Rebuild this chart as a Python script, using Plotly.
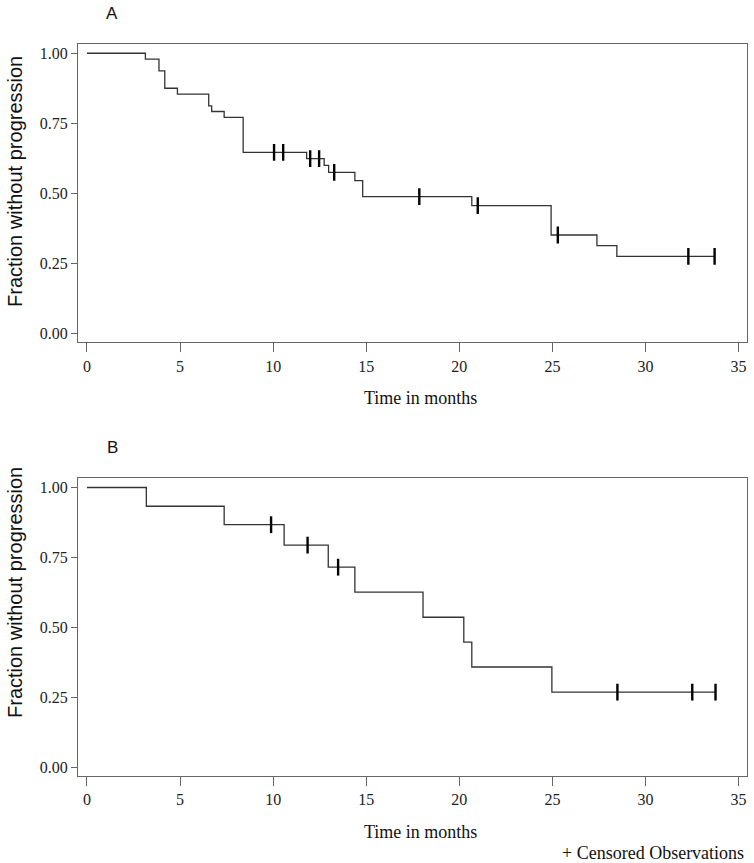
import numpy as np
import plotly.graph_objects as go

# ---------------- data ----------------
A_event_times = [0, 3.14, 3.87, 4.18, 4.86, 6.54, 6.70, 7.37, 8.39, 11.80, 12.74,
                 12.98, 14.39, 14.81, 20.67, 24.93, 27.39, 28.46]
A_survival = [1.000, 0.979, 0.937, 0.875, 0.854, 0.812, 0.792, 0.771, 0.646, 0.624,
              0.600, 0.575, 0.545, 0.488, 0.456, 0.351, 0.313, 0.275]
A_censor_times = [10.05, 10.54, 11.99, 12.47, 13.28, 17.85, 20.99, 25.29, 32.30, 33.71]

B_event_times = [0, 3.19, 7.37, 10.59, 12.96, 14.39, 18.05, 20.24, 20.67, 24.97]
B_survival = [1.000, 0.933, 0.867, 0.794, 0.715, 0.626, 0.536, 0.447, 0.358, 0.268]
B_censor_times = [9.89, 11.85, 13.49, 28.49, 32.51, 33.76]

x_ticks = [0, 5, 10, 15, 20, 25, 30, 35]
y_ticks = [0.00, 0.25, 0.50, 0.75, 1.00]
panel_labels = ["A", "B"]
x_title = "Time in months"
y_title = "Fraction without progression"
legend_text = "+&nbsp;Censored Observations"

# ---------------- geometry (screen pixels) ----------------
W, H = 754, 863
S_LEFT, S_RIGHT, S_TOP, S_BOTTOM = 78, 747, 44, 776
ML, MT, MR, MB = S_LEFT, S_TOP, W - S_RIGHT, H - S_BOTTOM
PW, PH = S_RIGHT - S_LEFT, S_BOTTOM - S_TOP

def py(p):
    return (S_BOTTOM - p) / PH

def px(p):
    return (p - S_LEFT) / PW

fig = go.Figure()

panels = [
    (A_event_times, A_survival, A_censor_times, "x", "y"),
    (B_event_times, B_survival, B_censor_times, "x2", "y2"),
]

LINE_COLOR = "#333333"
for times, surv, cens, xa, ya in panels:
    end_t = max(max(cens), times[-1])
    xs = list(times) + [end_t]
    ys = list(surv) + [surv[-1]]
    fig.add_trace(go.Scatter(x=xs, y=ys, mode="lines", line=dict(shape="hv", color=LINE_COLOR, width=1.3),
                             xaxis=xa, yaxis=ya, showlegend=False, hoverinfo="skip"))
    idx = np.searchsorted(np.array(times), np.array(cens), side="right") - 1
    cy = [surv[i] for i in idx]
    fig.add_trace(go.Scatter(x=cens, y=cy, mode="markers",
                             marker=dict(symbol="line-ns", size=12, line=dict(color="black", width=2.4)),
                             xaxis=xa, yaxis=ya, showlegend=False, hoverinfo="skip"))

axis_common = dict(showline=True, mirror=True, linecolor="#666666", linewidth=1,
                   ticks="outside", tickcolor="#666666", showgrid=False, zeroline=False,
                   tickfont=dict(family="Liberation Serif", size=16, color="#222222"))

xr = [-0.48, 35.45]
yr = [-0.032, 1.033]
domA = [py(342.3), 1.0]
domB = [0.0, py(478.3)]

fig.update_layout(
    width=W, height=H,
    margin=dict(l=ML, r=MR, t=MT, b=MB),
    paper_bgcolor="white", plot_bgcolor="white",
    xaxis=dict(domain=[0, 1], range=xr, tickvals=x_ticks, ticklen=9, anchor="y", **axis_common),
    yaxis=dict(domain=domA, range=yr, tickvals=y_ticks, tickformat=".2f", ticklen=6, anchor="x", **axis_common),
    xaxis2=dict(domain=[0, 1], range=xr, tickvals=x_ticks, ticklen=9, anchor="y2", **axis_common),
    yaxis2=dict(domain=domB, range=yr, tickvals=y_ticks, tickformat=".2f", ticklen=6, anchor="x2", **axis_common),
)

ann = []
for lab, cy_ in zip(panel_labels, (13, 447)):
    ann.append(dict(text=lab, x=px(112), y=py(cy_), xref="paper", yref="paper",
                    showarrow=False, xanchor="center", yanchor="middle",
                    font=dict(family="Liberation Sans", size=17, color="#111111")))
for cy_ in (182, 593):
    ann.append(dict(text=y_title, x=px(15), y=py(cy_), xref="paper", yref="paper", textangle=-90,
                    showarrow=False, xanchor="center", yanchor="middle",
                    font=dict(family="Liberation Sans", size=20, color="#111111")))
for cy_ in (398, 832):
    ann.append(dict(text=x_title, x=px(420), y=py(cy_), xref="paper", yref="paper",
                    showarrow=False, xanchor="center", yanchor="middle",
                    font=dict(family="Liberation Serif", size=18, color="#111111")))
ann.append(dict(text=legend_text, x=px(746), y=py(853), xref="paper", yref="paper",
                showarrow=False, xanchor="right", yanchor="middle",
                font=dict(family="Liberation Serif", size=18, color="#111111")))
fig.update_layout(annotations=ann)

fig.write_html("out.html", config={"displayModeBar": False},
               post_script="document.body.style.margin='0';")
